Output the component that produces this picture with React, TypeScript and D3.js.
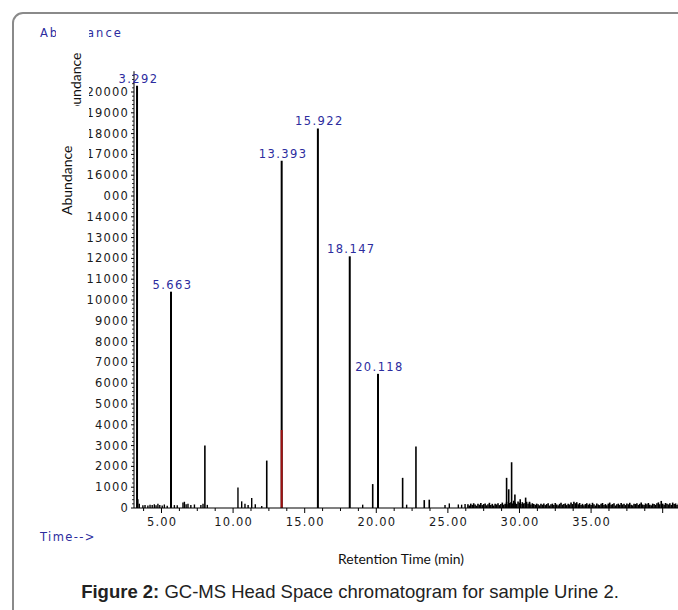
import * as d3 from "d3";

// labelled peaks (retention time, abundance)
const peakTimes = [3.292, 5.663, 13.393, 15.922, 18.147, 20.118];
const peakHeights = [20300, 10400, 16700, 18250, 12100, 6450];

// unlabelled medium peaks
const minorTimes = [8.03, 12.35, 19.75, 21.84, 22.77, 23.35, 23.7, 29.1, 29.25, 29.45, 29.68, 30.05, 30.43, 30.7];
const minorHeights = [3000, 2280, 1150, 1450, 2960, 380, 400, 1450, 900, 2200, 650, 420, 500, 300];

// small scattered peaks before the noisy region
const smallTimes = [3.35, 3.45, 3.7, 3.85, 4.05, 4.2, 4.35, 4.5, 4.62, 4.75, 4.88, 5.05, 5.2, 5.4, 5.9, 6.1, 6.5, 6.6, 6.72, 6.85, 7.05, 7.3, 7.75, 7.9, 8.2, 10.34, 10.6, 10.83, 11.05, 11.3, 11.55, 12.0, 19.05, 22.12, 24.8, 25.1, 25.73, 25.96, 26.2];
const smallHeights = [420, 200, 130, 150, 120, 160, 140, 180, 130, 200, 150, 120, 170, 110, 140, 130, 260, 300, 180, 200, 150, 170, 140, 200, 150, 980, 320, 200, 150, 480, 180, 100, 160, 160, 150, 220, 170, 160, 190];

// baseline noise, sampled every 0.1 min from 26.4 min
const noiseStart = 26.4;
const noiseStep = 0.1;
const noiseValues = [
  180, 120, 210, 150, 230, 170, 110, 200, 160, 240,
  140, 190, 220, 130, 180, 250, 150, 200, 120, 210,
  170, 230, 140, 190, 260, 160, 210, 300, 180, 240,
  280, 220, 350, 260, 200, 310, 250, 190, 280, 220,
  240, 300, 200, 260, 170, 230, 190, 150, 210, 180,
  130, 200, 160, 220, 140, 190, 230, 120, 180, 210,
  150, 240, 170, 130, 200, 250, 160, 190, 220, 140,
  210, 170, 260, 190, 300, 230, 280, 180, 240, 150,
  200, 130, 190, 230, 160, 210, 140, 250, 180, 120,
  220, 170, 140, 200, 240, 150, 190, 130, 210, 260,
  160, 190, 230, 120, 180, 210, 150, 240, 170, 200,
  140, 220, 180, 250, 160, 130, 210, 190, 230, 150,
  200, 260, 170, 140, 220, 180, 240, 160, 130, 210,
  190, 150, 230, 270, 180, 340, 210, 160, 240, 200,
  170, 230, 150, 260, 190, 220, 140, 210,
];

const xTickValues = [5, 10, 15, 20, 25, 30, 35, 40];
const xTickLabels = ["5.00", "10.00", "15.00", "20.00", "25.00", "30.00", "35.00", ""];
const yTickValues = [0, 1000, 2000, 3000, 4000, 5000, 6000, 7000, 8000, 9000, 10000, 11000, 12000, 13000, 14000, 15000, 16000, 17000, 18000, 19000, 20000];
const redPart = { time: 13.393, height: 3750 };

const W = 678;
const H = 610;
const blue = "#2c2c9e";
const tickFont = "DejaVu Sans, sans-serif";

export default function App() {
  const x = d3.scaleLinear().domain([3.08, 41.07]).range([134, 678]);
  const y = d3.scaleLinear().domain([0, 20000]).range([508, 92]);
  const y0 = y(0);

  const minorX = d3.range(3.75, 41.1, 1.25).filter((t) => xTickValues.indexOf(t) < 0);
  const minorY = d3.range(0, 21001, 200).filter((v) => v % 1000 !== 0);

  const sticks = [
    ...smallTimes.map((t, i) => ({ t, h: smallHeights[i], w: 1.4 })),
    ...noiseValues.map((h, i) => ({ t: noiseStart + i * noiseStep, h, w: 1.6 })),
    ...minorTimes.map((t, i) => ({ t, h: minorHeights[i], w: 1.6 })),
    ...peakTimes.map((t, i) => ({ t, h: peakHeights[i], w: 2 })),
  ];

  return (
    <svg
      width={W}
      height={H}
      style={{ position: "absolute", left: 0, top: 0, background: "#fff" }}
    >
      <rect x={13} y={13} width={800} height={800} rx={10} fill="none" stroke="#8a8a8a" strokeWidth={2} />

      {/* sticks */}
      <g>
        {sticks.map((d, i) => (
          <line key={i} x1={x(d.t)} x2={x(d.t)} y1={y0} y2={y(d.h)} stroke="#000" strokeWidth={d.w} />
        ))}
        <line
          x1={x(redPart.time)} x2={x(redPart.time)} y1={y0} y2={y(redPart.height)}
          stroke="#a01010" strokeWidth={2}
        />
      </g>

      {/* x axis */}
      <g fontFamily={tickFont} fontSize={11.5} fill="#1a1a1a">
        <line x1={134} x2={678} y1={y0} y2={y0} stroke="#000" strokeWidth={1.2} />
        {minorX.map((t) => (
          <line key={t} x1={x(t)} x2={x(t)} y1={y0} y2={y0 + 3} stroke="#000" />
        ))}
        {xTickValues.map((t, i) => (
          <g key={t}>
            <line x1={x(t)} x2={x(t)} y1={y0} y2={y0 + 5} stroke="#000" />
            <text x={x(t) + 0.6} y={526} textAnchor="middle" letterSpacing={1.2}>
              {xTickLabels[i]}
            </text>
          </g>
        ))}
      </g>

      {/* y axis */}
      <g fontFamily={tickFont} fontSize={11.5} fill="#1a1a1a">
        <line x1={134} x2={134} y1={y0} y2={y(21000)} stroke="#000" strokeWidth={1} />
        {minorY.map((v) => (
          <line key={v} x1={132} x2={134} y1={y(v)} y2={y(v)} stroke="#000" strokeWidth={0.8} />
        ))}
        {yTickValues.map((v) => (
          <g key={v}>
            <line x1={131} x2={134} y1={y(v)} y2={y(v)} stroke="#000" />
            <text x={129} y={y(v) + 4} textAnchor="end" letterSpacing={1.2}>
              {v}
            </text>
          </g>
        ))}
      </g>

      {/* peak labels */}
      <g fontFamily={tickFont} fontSize={11.5} fill={blue}>
        {peakTimes.map((t, i) => (
          <text key={t} x={x(t) + 1.5} y={y(peakHeights[i]) - 3} textAnchor="middle" letterSpacing={1.4}>
            {t.toFixed(3)}
          </text>
        ))}
      </g>

      {/* overlapping label artefacts */}
      <text x={40} y={37} fontFamily={tickFont} fontSize={11.5} fill={blue} letterSpacing={2}>
        Abundance
      </text>
      <rect x={56} y={18} width={33} height={147} fill="#fff" />
      <text
        transform="translate(81,122) rotate(-90)"
        fontFamily="Lato, sans-serif" fontSize={14} fill="#111"
      >
        Abundance
      </text>
      <rect x={68} y={106} width={18} height={20} fill="#fff" />
      <rect x={84} y={188} width={19} height={15} fill="#fff" />
      <text
        transform="translate(72,215) rotate(-90)"
        fontFamily="Lato, sans-serif" fontSize={14} fill="#111"
      >
        Abundance
      </text>

      <text x={40} y={541} fontFamily={tickFont} fontSize={11.5} fill={blue} letterSpacing={1.4}>
        {"Time-->"}
      </text>

      <text x={401} y={564} textAnchor="middle" fontFamily="Lato, sans-serif" fontSize={13.9} fill="#111">
        Retention Time (min)
      </text>
      <text x={350} y={598} textAnchor="middle" fontFamily="Liberation Sans, Arial, sans-serif" fontSize={18.5} fill="#222">
        <tspan fontWeight="bold">Figure 2:</tspan> GC-MS Head Space chromatogram for sample Urine 2.
      </text>
    </svg>
  );
}
